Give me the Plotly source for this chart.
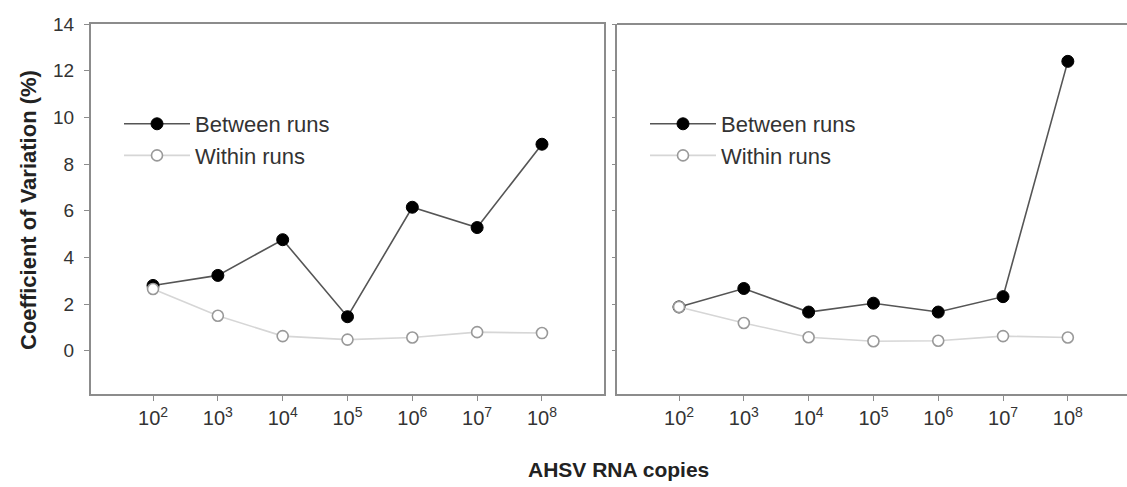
import plotly.graph_objects as go

W, H = 1127, 487

# ---- data ----
exponents = [2, 3, 4, 5, 6, 7, 8]
tick_labels = ["10<sup>%d</sup>" % e for e in exponents]

left_between = [2.80, 3.23, 4.76, 1.46, 6.15, 5.28, 8.85]
left_within = [2.65, 1.50, 0.63, 0.48, 0.57, 0.80, 0.76]

right_between = [1.88, 2.67, 1.66, 2.04, 1.66, 2.32, 12.40]
right_within = [1.88, 1.19, 0.58, 0.41, 0.43, 0.63, 0.57]

y_ticks = [0, 2, 4, 6, 8, 10, 12, 14]

# ---- styling ----
FONT = "Liberation Sans, Arial, sans-serif"
AXIS_COL = "#8c8c8c"
BETWEEN_LINE = "#555555"
WITHIN_LINE = "#d6d6d6"
WITHIN_MARK = "#999999"


def px_x(p):
    return p / W


def px_y(p):
    return 1 - p / H


fig = go.Figure()

for xa, ya, leg, yb, yw in [("x", "y", "legend", left_between, left_within),
                            ("x2", "y2", "legend2", right_between, right_within)]:
    fig.add_trace(go.Scatter(
        x=exponents, y=yb, xaxis=xa, yaxis=ya, legend=leg,
        mode="lines+markers", name="Between runs",
        line=dict(color=BETWEEN_LINE, width=1.6),
        marker=dict(symbol="circle", size=12, color="#000000",
                    line=dict(color="#000000", width=1)),
    ))
    fig.add_trace(go.Scatter(
        x=exponents, y=yw, xaxis=xa, yaxis=ya, legend=leg,
        mode="lines+markers", name="Within runs",
        line=dict(color=WITHIN_LINE, width=1.6),
        marker=dict(symbol="circle", size=11, color="#ffffff",
                    line=dict(color=WITHIN_MARK, width=1.6)),
    ))

y_dom = [px_y(394), px_y(24)]
y_range = [-1.85, 14]

common_x = dict(
    tickmode="array", tickvals=exponents, ticktext=tick_labels,
    ticks="outside", ticklen=5, tickwidth=1.2, tickcolor=AXIS_COL,
    showline=True, linecolor=AXIS_COL, linewidth=2,
    showgrid=False, zeroline=False,
    tickfont=dict(family=FONT, size=20, color="#333333"),
    fixedrange=True,
)
common_y = dict(
    range=y_range, tickmode="array", tickvals=y_ticks,
    ticks="outside", tickwidth=1.2, tickcolor=AXIS_COL,
    showline=True, linecolor=AXIS_COL, linewidth=2,
    showgrid=False, zeroline=False,
    tickfont=dict(family=FONT, size=19, color="#333333"),
    fixedrange=True,
)

legend_common = dict(xanchor="left", yanchor="top", itemwidth=66,
                     bgcolor="rgba(0,0,0,0)", borderwidth=0,
                     font=dict(family=FONT, size=22, color="#333333"))

fig.update_layout(
    width=W, height=H,
    margin=dict(l=0, r=0, t=0, b=0, autoexpand=False),
    paper_bgcolor="white", plot_bgcolor="white",
    font=dict(family=FONT, color="#333333"),
    xaxis=dict(domain=[px_x(91), px_x(604)], range=[1.043, 8.957],
               mirror=True, anchor="y", **common_x),
    yaxis=dict(domain=y_dom, anchor="x", mirror=True, ticklen=5,
               showticklabels=True, ticklabelstandoff=6, **common_y),
    xaxis2=dict(domain=[px_x(617), 1.0], range=[1.043, 8.913],
                anchor="y2", **common_x),
    yaxis2=dict(domain=y_dom, anchor="x2", ticklen=3,
                showticklabels=False, **common_y),
    legend=dict(x=px_x(119), y=px_y(103), **legend_common),
    legend2=dict(x=px_x(645), y=px_y(103), **legend_common),
    showlegend=True,
    shapes=[
        dict(type="line", xref="paper", yref="paper",
             x0=px_x(617), x1=1.0, y0=px_y(24), y1=px_y(24),
             line=dict(color=AXIS_COL, width=2)),
    ],
    annotations=[
        dict(text="<b>Coefficient of Variation (%)</b>", textangle=-90,
             xref="paper", yref="paper", x=px_x(28), y=px_y(210),
             xanchor="center", yanchor="middle", showarrow=False,
             font=dict(family=FONT, size=22, color="#222222")),
        dict(text="<b>AHSV RNA copies</b>",
             xref="paper", yref="paper", x=px_x(618), y=px_y(469),
             xanchor="center", yanchor="middle", showarrow=False,
             font=dict(family=FONT, size=21, color="#222222")),
    ],
)

fig.write_html("out.html",
               config={"displayModeBar": False},
               post_script="document.body.style.margin='0';"
                           "document.body.style.overflow='hidden';")
